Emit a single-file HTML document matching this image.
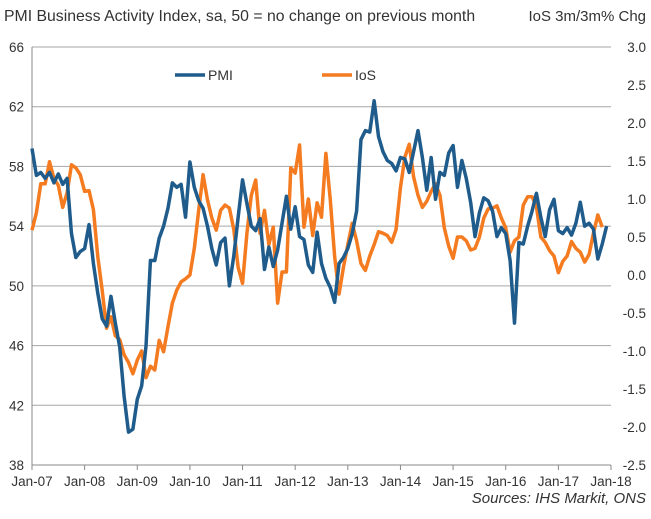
<!DOCTYPE html>
<html><head><meta charset="utf-8"><style>
body{margin:0;background:#fff;font-family:"Liberation Sans",Arial,sans-serif;}
svg text{font-family:"Liberation Sans",Arial,sans-serif;fill:#333;}
</style></head><body>
<svg id="chart" width="651" height="514" xmlns="http://www.w3.org/2000/svg">
<text x="4" y="21" font-size="15.8">PMI Business Activity Index, sa, 50 = no change on previous month</text>
<text x="646" y="21" font-size="15" text-anchor="end">IoS 3m/3m% Chg</text>
<g id="grid"></g>
<g id="axes"></g>
<g id="series"></g>
<g>
<line x1="175" y1="75" x2="205" y2="75" stroke="#1F5C8B" stroke-width="3.5"/>
<text x="208" y="80" font-size="14">PMI</text>
<line x1="322" y1="75" x2="352" y2="75" stroke="#F47B20" stroke-width="3.5"/>
<text x="355" y="80" font-size="14">IoS</text>
</g>
<text x="646" y="503" font-size="15" font-style="italic" text-anchor="end">Sources: IHS Markit, ONS</text>
</svg>
<script>
const pmiValues=[59.2,57.4,57.6,57.2,57.6,56.9,57.5,56.8,57.2,53.5,51.9,52.3,52.5,54.1,51.5,49.5,47.8,47.3,49.3,47.5,45.9,42.6,40.2,40.4,42.4,43.3,46.0,51.7,51.7,53.2,54.0,55.2,56.9,56.6,56.8,54.6,58.3,56.6,55.7,55.2,54.0,52.5,51.4,52.9,53.2,50.0,52.0,54.6,57.1,55.5,54.0,53.7,54.5,51.1,52.6,51.3,52.4,54.2,56.0,53.8,55.3,53.3,53.1,51.4,50.9,53.6,51.5,50.5,49.9,48.9,51.5,51.9,52.5,53.5,55.0,59.8,60.4,60.3,62.4,60.0,59.0,58.4,58.2,57.7,58.6,58.5,57.6,59.0,60.4,58.6,56.4,58.6,55.8,57.6,57.4,58.9,59.4,56.6,58.4,57.2,55.6,53.3,54.9,55.9,55.7,55.0,53.3,53.9,53.5,51.7,47.5,52.9,52.8,54.0,55.0,56.2,54.6,53.3,55.1,55.8,53.7,53.5,53.9,53.4,54.2,55.6,54.0,54.2,53.8,51.8,52.8,54.0];
const iosValues=[0.59,0.82,1.20,1.20,1.49,1.27,1.18,0.89,1.08,1.45,1.41,1.32,1.10,1.11,0.86,0.24,-0.20,-0.70,-0.55,-0.80,-0.85,-1.05,-1.15,-1.30,-1.12,-1.00,-1.35,-1.20,-1.25,-0.86,-1.01,-0.68,-0.37,-0.20,-0.09,-0.05,0.0,0.35,0.85,1.32,0.99,0.75,0.59,0.85,0.92,0.88,0.60,0.10,-0.11,0.55,1.05,1.25,0.55,0.85,0.40,0.63,-0.37,0.04,0.04,1.41,1.34,1.71,0.63,1.00,0.52,0.95,0.76,1.60,0.99,0.24,-0.25,0.10,0.40,0.68,0.45,0.15,0.06,0.25,0.40,0.57,0.55,0.52,0.43,0.60,1.15,1.55,1.72,1.29,1.05,0.89,0.97,1.10,1.20,1.05,0.62,0.38,0.22,0.50,0.50,0.45,0.33,0.35,0.50,0.75,0.87,0.88,0.91,0.75,0.62,0.30,0.45,0.50,0.92,1.03,1.03,0.90,0.50,0.43,0.32,0.25,0.03,0.18,0.25,0.44,0.35,0.30,0.17,0.27,0.55,0.79,0.63];
const leftTicks=[38,42,46,50,54,58,62,66];
const rightTicks=["-2.5","-2.0","-1.5","-1.0","-0.5","0.0","0.5","1.0","1.5","2.0","2.5","3.0"];
const xLabels=["Jan-07","Jan-08","Jan-09","Jan-10","Jan-11","Jan-12","Jan-13","Jan-14","Jan-15","Jan-16","Jan-17","Jan-18"];
const NS="http://www.w3.org/2000/svg";
const X0=32,X1=611,YT=47,YB=465;
const xM=m=>X0+m*(X1-X0)/132;
const yL=v=>YB-(v-38)*(YB-YT)/28;
const yR=v=>YB-(v+2.5)*(YB-YT)/5.5;
function mk(tag,attrs,parent){const e=document.createElementNS(NS,tag);for(const k in attrs)e.setAttribute(k,attrs[k]);parent.appendChild(e);return e;}
const grid=document.getElementById('grid'),axes=document.getElementById('axes'),series=document.getElementById('series');
leftTicks.forEach(v=>{
  if(v>38){const g=mk('line',{x1:X0,x2:X1,y1:yL(v),y2:yL(v),stroke:'#a6a6a6','stroke-width':1},grid);
  
  }
  const t=mk('text',{x:X0-8,y:yL(v)+5,'font-size':13.5,'text-anchor':'end'},axes);t.textContent=v;
  
  
});
rightTicks.forEach(s=>{
  const t=mk('text',{x:646,y:yR(parseFloat(s))+5,'font-size':13.5,'text-anchor':'end'},axes);t.textContent=s;
  
  
});
const ax=mk('line',{x1:X0,x2:X1,y1:YB,y2:YB,stroke:'#888','stroke-width':1},axes);


const ay=mk('line',{x1:X0,x2:X0,y1:YT,y2:YB,stroke:'#888','stroke-width':1},axes);


xLabels.forEach((s,i)=>{
  const x=xM(i*12);
  const tk=mk('line',{x1:x,x2:x,y1:YB,y2:YB+5,stroke:'#888'},axes);
  
  
  const t=mk('text',{x:x,y:YB+21,'font-size':13.5,'text-anchor':'middle'},axes);t.textContent=s;
  
  
});
const iosLine=mk('polyline',{points:iosValues.map((v,i)=>xM(i)+','+yR(v)).join(' '),fill:'none',stroke:'#F47B20','stroke-width':3.5,'stroke-linejoin':'round'},series);


const pmiLine=mk('polyline',{points:pmiValues.map((v,i)=>xM(i)+','+yL(v)).join(' '),fill:'none',stroke:'#1F5C8B','stroke-width':3.5,'stroke-linejoin':'round'},series);


</script>
</body></html>
